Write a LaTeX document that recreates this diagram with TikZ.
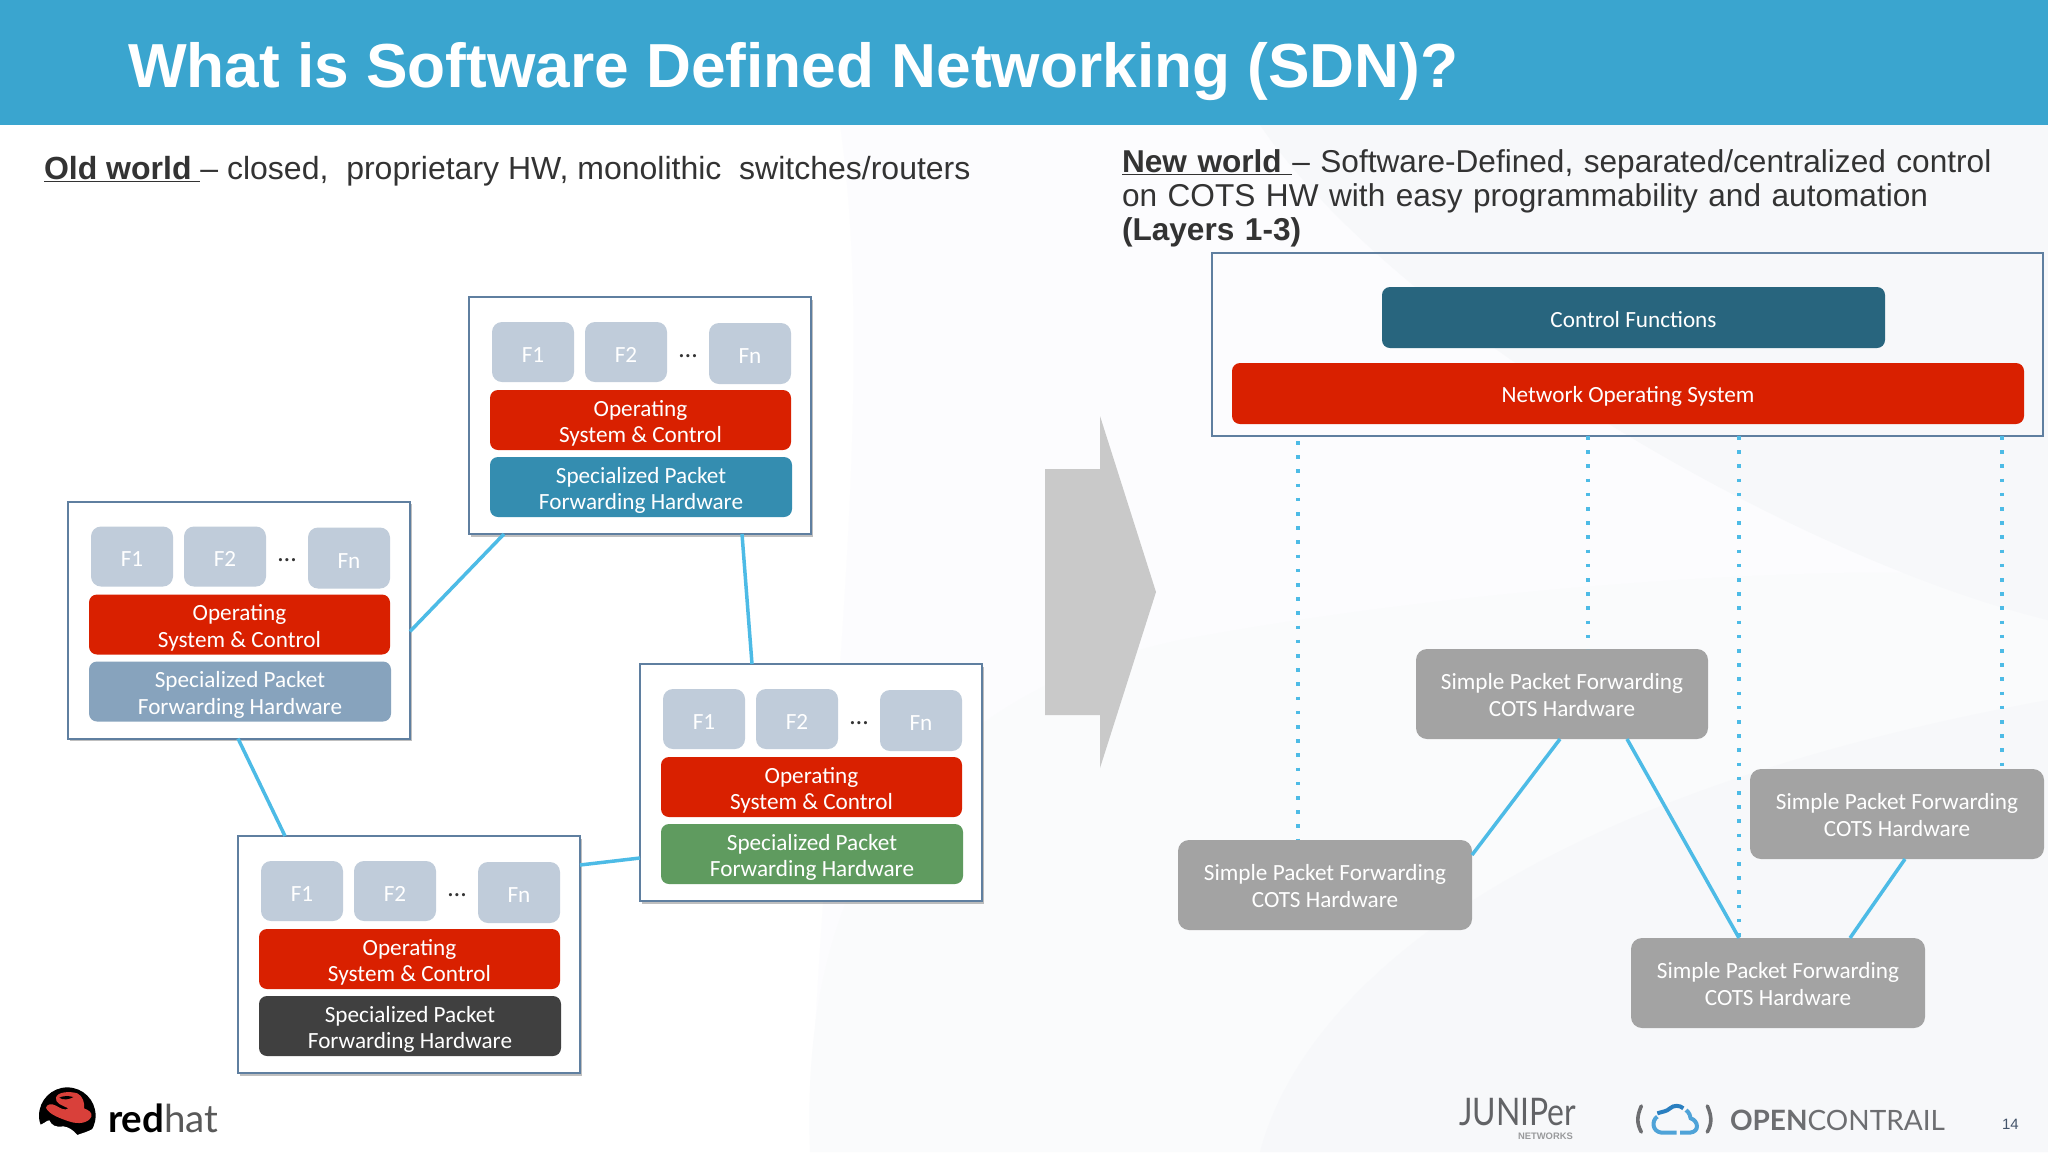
\documentclass[tikz,border=0pt]{standalone}
\usepackage{fontspec}
\usetikzlibrary{shadows}
\setmainfont{Liberation Sans}
\newfontfamily\carl{Carlito}
\newfontfamily\latof{Lato}
\definecolor{hdr}{HTML}{3AA5CF}
\definecolor{ink}{HTML}{333333}
\definecolor{fcol}{HTML}{C0CCDA}
\definecolor{oscol}{HTML}{D92000}
\definecolor{hwa}{HTML}{348DB0}
\definecolor{hwb}{HTML}{87A3BD}
\definecolor{hwc}{HTML}{5F9B5F}
\definecolor{hwd}{HTML}{404040}
\definecolor{ctl}{HTML}{28657E}
\definecolor{gry}{HTML}{A3A3A3}
\definecolor{edgec}{HTML}{5F7FA0}
\definecolor{link}{HTML}{4DBBE6}
\definecolor{arr}{HTML}{C9C9C9}
\definecolor{ltxt}{HTML}{6D6E71}
\definecolor{num}{HTML}{44546A}
\definecolor{hatred}{HTML}{D9403A}
\definecolor{cloudd}{HTML}{2A7FC0}
\definecolor{cloudl}{HTML}{4FA3D8}
\definecolor{sweepa}{HTML}{FCFCFE}
\definecolor{sweepb}{HTML}{F7F8FA}
\definecolor{sweepc}{HTML}{FAFBFC}
\newcommand{\firstline}{\rule{0pt}{22.5pt}}
\newcommand{\greyline}{\rule{0pt}{18pt}}
\tikzset{
  anybox/.style={inner sep=0pt,outer sep=0pt,anchor=north west,align=center,text=white,font=\carl\fontsize{23.2}{26.5}\selectfont},
  lowered/.style={execute at begin node=\rule{0pt}{20.5pt}},
  fbox/.style={anybox,lowered,fill=fcol,rounded corners=10pt},
  osbox/.style={anybox,lowered,fill=oscol,rounded corners=8pt},
  hwbox/.style={anybox,lowered,fill=#1,rounded corners=8pt},
  router/.style={anybox,fill=white,draw=edgec,line width=2pt,drop shadow={shadow xshift=1.5pt,shadow yshift=-2.5pt,opacity=.25,fill=black}},
  ctrlframe/.style={anybox,draw=edgec,line width=1.5pt},
  simple/.style={anybox,fill=gry,rounded corners=11pt},
  solidlink/.style={draw=link,line width=3.5pt},
  dotlink/.style={draw=link,line width=3.6pt,dash pattern=on 3.6pt off 10.6pt},
  head/.style={inner sep=0pt,outer sep=0pt,anchor=base west,text=ink,font=\fontsize{32}{34}\selectfont},
  logotext/.style={inner sep=0pt,outer sep=0pt,anchor=base west},
}
\newcommand{\bx}[7]{\node[#1,minimum width=#5pt,minimum height=#6pt] (#2) at (#3,#4) {#7};}
\newcommand{\routerat}[4]{%
  \bx{router}{#1}{#2}{#3}{342}{237}{}
  \begin{scope}[shift={(#2,#3)}]
    \bx{fbox}{#1f1}{23}{25}{82}{60}{F1}
    \bx{fbox}{#1f2}{116}{25}{82}{60}{F2}
    \node[anybox,anchor=center,text=ink,font=\carl\fontsize{26}{26}\selectfont] (#1dots) at (219,59) {…};
    \bx{fbox}{#1fn}{240}{26}{82}{61}{Fn}
    \bx{osbox}{#1os}{21}{93}{301}{60}{\firstline Operating\\System \& Control}
    \bx{hwbox=#4}{#1hw}{21}{160}{302}{60}{\firstline Specialized Packet\\Forwarding Hardware}
  \end{scope}}
\begin{document}
\begin{tikzpicture}[x=1pt,y=-1pt]
\useasboundingbox (0,0) rectangle (2048,1152);
% page background with its faint sweeps
\fill[white] (0,0) rectangle (2048,1152);
\fill[sweepa] (840,125) .. controls (880,400) and (820,800) .. (810,1152) -- (2048,1152) -- (2048,125) -- cycle;
\fill[sweepc] (810,1152) .. controls (800,900) and (900,700) .. (1180,640) .. controls (1500,580) and (1900,560) .. (2048,580) -- (2048,1152) -- cycle;
\fill[sweepb] (1260,125) -- (2048,125) -- (2048,620) .. controls (1800,560) and (1400,330) .. (1260,125) -- cycle;
\fill[sweepb] (1260,1152) .. controls (1300,1000) and (1500,800) .. (2048,700) -- (2048,1152) -- cycle;
% header
\fill[hdr] (0,0) rectangle (2048,125);
\node[inner sep=0pt,outer sep=0pt,anchor=base west,text=white,font=\bfseries\fontsize{62.2}{70}\selectfont] (title) at (128,87) {What is Software Defined Networking (SDN)?};
% headings
\node[head] (oldw) at (44,179) {\underline{\textbf{Old world }}– closed,\ \ proprietary HW, monolithic\ \ switches/routers};
\node[head,anchor=north west,align=left,text width=925pt,font=\fontsize{31.6}{34}\selectfont] (neww) at (1122,150) {\underline{\textbf{New world }}– Software-Defined, separated/centralized control\\on COTS HW with easy programmability and automation\\\textbf{(Layers 1-3)}};
% old world routers
\routerat{ra}{469}{297}{hwa}
\routerat{rb}{68}{501.5}{hwb}
\routerat{rc}{640}{664}{hwc}
\routerat{rd}{238}{836}{hwd}
\draw[solidlink] ([xshift=35pt]ra.south west) -- ([yshift=-130pt]rb.north east);
\draw[solidlink] ([xshift=273pt]ra.south west) -- ([xshift=112pt]rc.north west);
\draw[solidlink] ([xshift=170pt]rb.south west) -- ([xshift=47pt]rd.north west);
\draw[solidlink] ([yshift=-29pt]rd.north east) -- ([yshift=-194pt]rc.north west);
% arrow
\fill[arr] (1045,469) -- (1100,469) -- (1100,416) -- (1156,592) -- (1100,768) -- (1100,715) -- (1045,715) -- cycle;
% new world
\bx{ctrlframe}{frame}{1212}{253}{831}{183}{}
\bx{hwbox=ctl}{ctrl}{1382}{287}{503}{61}{Control Functions}
\bx{osbox}{nos}{1232}{363}{792}{61}{\raisebox{-2pt}{Network Operating System}}
\bx{simple}{ga}{1416}{649}{292}{90}{\greyline Simple Packet Forwarding\\COTS Hardware}
\bx{simple}{gb}{1178}{840}{294}{90}{\greyline Simple Packet Forwarding\\COTS Hardware}
\bx{simple}{gc}{1750}{769}{294}{90}{\greyline Simple Packet Forwarding\\COTS Hardware}
\bx{simple}{gd}{1631}{938}{294}{90}{\greyline Simple Packet Forwarding\\COTS Hardware}
\coordinate (da) at (1298,441);
\coordinate (db) at (1588,436);
\coordinate (dc) at (1739,436);
\coordinate (dd) at (2002,436);
\draw[dotlink] (da) -- (da |- gb.north);
\draw[dotlink] (db) -- (db |- ga.north);
\draw[dotlink] (dc) -- (dc |- gd.north);
\draw[dotlink] (dd) -- (dd |- gc.north);
\draw[solidlink] ([xshift=144pt]ga.south west) -- ([yshift=-15pt]gb.north east);
\draw[solidlink] ([xshift=211pt]ga.south west) -- ([xshift=108pt]gd.north west);
\draw[solidlink] ([xshift=155pt]gc.south west) -- ([xshift=219pt]gd.north west);
% red hat logo
\begin{scope}[shift={(20,1075)},x=.3333pt,y=-.3333pt]
  \fill[black] (142,122) circle (28.3pt);
  \fill[white] (55,150) .. controls (70,150) and (80,135) .. (88,136) .. controls (95,150) and (105,158) .. (130,154) .. controls (145,156) and (160,165) .. (172,180) .. controls (185,175) and (205,170) .. (222,160) -- (240,215) -- (50,215) -- cycle;
  \fill[hatred] (108,68) .. controls (112,50) and (150,48) .. (172,55) .. controls (188,62) and (195,85) .. (192,100) .. controls (205,105) and (218,112) .. (214,125) .. controls (205,145) and (175,148) .. (150,140) .. controls (125,132) and (85,118) .. (78,98) .. controls (80,88) and (95,84) .. (108,92) .. controls (122,100) and (135,108) .. (145,100) .. controls (125,90) and (105,85) .. (108,68) -- cycle;
  \fill[black] (118,68) .. controls (130,62) and (145,62) .. (160,66) .. controls (148,74) and (128,76) .. (118,68) -- cycle;
\end{scope}
\node[logotext,text=black,font=\latof\fontsize{38.5}{40}\selectfont] (rh) at (108,1132) {\textbf{red}\textcolor{black!65}{hat}};
% juniper logo
\node[logotext,text=ltxt!90!black,xscale=.84,font=\latof\fontsize{38}{40}\selectfont] (jun) at (1459,1125) {JUNIPer};
\node[logotext,text=ltxt!70,font=\bfseries\fontsize{9.4}{10}\selectfont] (junb) at (1518,1139) {NETWORKS};
% opencontrail logo
\begin{scope}[shift={(1620,1090)},x=.3333pt,y=-.3333pt]
  \draw[ltxt,line width=3.6pt,line cap=round] (64,48) .. controls (50,80) and (50,100) .. (64,126);
  \draw[ltxt,line width=3.6pt,line cap=round] (262,48) .. controls (276,80) and (276,100) .. (262,126);
  \draw[cloudd,line width=4pt] (112,70) .. controls (125,65) and (140,65) .. (150,55) .. controls (160,45) and (180,45) .. (190,55);
  \draw[cloudl,line width=4pt] (198,60) .. controls (210,70) and (210,78) .. (212,85) .. controls (235,92) and (240,125) .. (210,128) -- (180,128);
  \draw[cloudl,line width=4pt] (170,128) -- (125,128) .. controls (95,125) and (95,90) .. (112,80);
\end{scope}
\node[logotext,text=ltxt,font=\latof\fontsize{28}{30}\selectfont] (oc) at (1730,1130) {\textbf{OPEN}CONTRAIL};
% page number
\node[logotext,text=num,font=\fontsize{15}{15}\selectfont] (pg) at (2002,1129) {14};
\end{tikzpicture}
\end{document}
